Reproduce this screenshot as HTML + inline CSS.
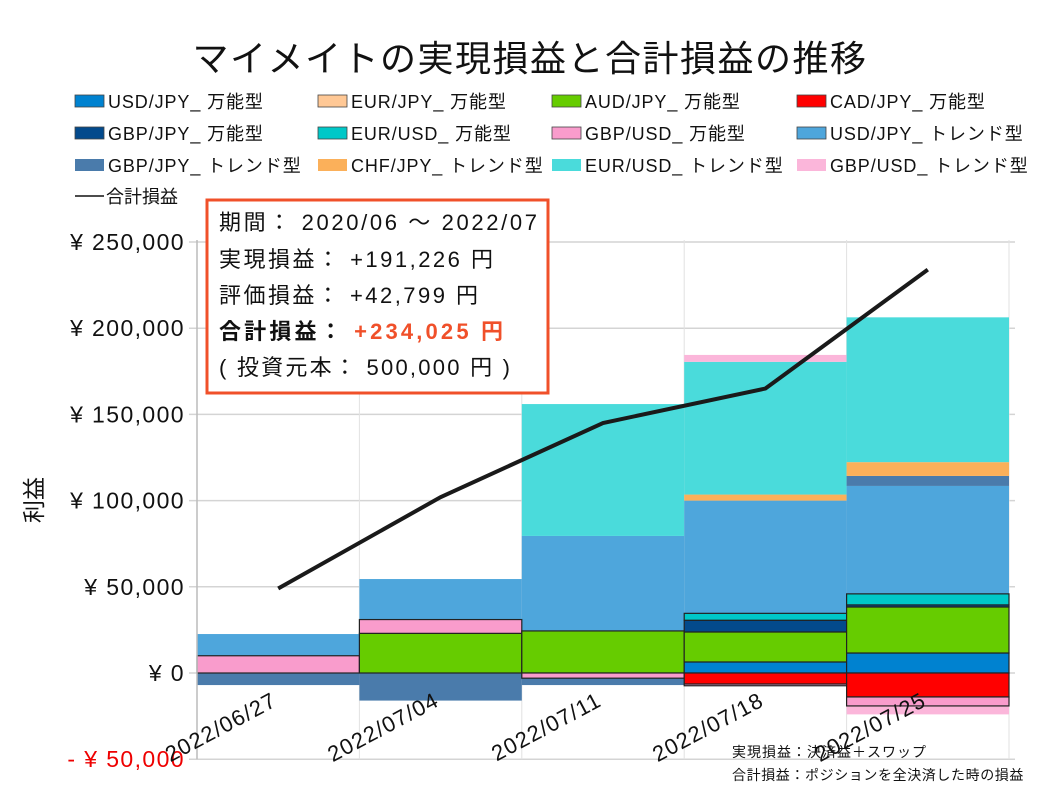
<!DOCTYPE html>
<html><head><meta charset="utf-8">
<style>
body{margin:0;background:#fff;width:1058px;height:794px;overflow:hidden;font-family:"Liberation Sans","Noto Sans CJK JP",sans-serif;}
svg{display:block}
</style></head>
<body>
<svg id="chart" width="1058" height="794" viewBox="0 0 1058 794" xmlns="http://www.w3.org/2000/svg" font-family="'Liberation Sans','Noto Sans CJK JP',sans-serif">
<text x="530" y="71" font-size="36" text-anchor="middle" fill="#111" letter-spacing="1.5">マイメイトの実現損益と合計損益の推移</text>
<g id="legend"></g>
<g id="grid"></g>
<g id="trend"></g>
<g id="bannou"></g>
<g id="axes"></g>
<text transform="translate(42,500) rotate(-90)" font-size="23" text-anchor="middle" fill="#111">利益</text>
<g>
<rect x="207" y="200" width="341" height="193" fill="#fff" stroke="#f0502a" stroke-width="3"/>
<text x="219" y="230" font-size="22" fill="#111" textLength="318" lengthAdjust="spacing">期間： 2020/06 ～ 2022/07</text>
<text x="219" y="267" font-size="22" fill="#111" textLength="274" lengthAdjust="spacing">実現損益： +191,226 円</text>
<text x="219" y="303" font-size="22" fill="#111" textLength="259" lengthAdjust="spacing">評価損益： +42,799 円</text>
<text x="219" y="339" font-size="22" fill="#111" font-weight="bold" textLength="284" lengthAdjust="spacing">合計損益： <tspan fill="#f0502a">+234,025 円</tspan></text>
<text x="219" y="375" font-size="22" fill="#111" textLength="291" lengthAdjust="spacing">( 投資元本： 500,000 円 )</text>
</g>
<text x="732" y="757" font-size="14" fill="#111" letter-spacing="1">実現損益：決済益＋スワップ</text>
<text x="732" y="780" font-size="14" fill="#111" letter-spacing="0.6">合計損益：ポジションを全決済した時の損益</text>
</svg>
<script>
const categories=["2022/06/27","2022/07/04","2022/07/11","2022/07/18","2022/07/25"];
const usdjpyB=[0,0,0,6400,11600];
const eurjpyB=[0,0,0,0,0];
const audjpyB=[0,23000,24400,17400,26700];
const cadjpyB=[0,0,0,-6400,-13900];
const gbpjpyB=[0,0,0,6800,1200];
const eurusdB=[0,0,0,4000,6400];
const gbpusdB=[10000,8000,-3000,-1000,-5200];
const usdjpyT=[22600,54500,79500,100000,108500];
const gbpjpyT=[-7000,-16000,-7000,-7500,5800];
const chfjpyT=[0,0,0,3500,8000];
const eurusdT=[0,0,76500,77000,84000];
const gbpusdT=[0,0,0,4000,-24000];
const totalPL=[49000,102000,145000,165000,234000];
const yTicks=[250000,200000,150000,100000,50000,0,-50000];
const yTickLabels=["¥ 250,000","¥ 200,000","¥ 150,000","¥ 100,000","¥ 50,000","¥ 0","- ¥ 50,000"];

const NS="http://www.w3.org/2000/svg";
const X0=197,X1=1009,Y0=673,PX=431/250000;
const bw=(X1-X0)/categories.length;
const y=v=>Y0-v*PX;
const xl=i=>X0+i*bw;
const xc=i=>X0+(i+0.5)*bw;
function mk(tag,at,parent){const e=document.createElementNS(NS,tag);for(const k in at)e.setAttribute(k,at[k]);parent.appendChild(e);return e;}

const grid=document.getElementById('grid');
yTicks.forEach((t,i)=>{
  const l=mk('line',{x1:X0-8,x2:X1+6,y1:y(t),y2:y(t),stroke:'#d4d4d4','stroke-width':1.5},grid);
  
  
  const tx=mk('text',{x:185,y:y(t)+8,'font-size':23,'text-anchor':'end',fill:t<0?'#e00':'#111','letter-spacing':1.4},grid);
  tx.textContent=yTickLabels[i];
  
  
});
for(let i=0;i<=categories.length;i++){
  const l=mk('line',{x1:xl(i),x2:xl(i),y1:y(250000)-2,y2:y(-50000),stroke:'#e2e2e2','stroke-width':1},grid);
  
  
}

function stack(groupId,series,bordered){
  const g=document.getElementById(groupId);
  categories.forEach((c,i)=>{
    let pos=0,neg=0;
    series.forEach(s=>{
      const v=s.data[i]; if(!v) return;
      let a,b;
      if(v>0){a=pos;b=pos+v;pos=b;}else{a=neg;b=neg+v;neg=b;}
      const r=mk('rect',{x:xl(i),y:y(Math.max(a,b)),width:bw,height:Math.abs(y(a)-y(b)),fill:s.color},g);
      if(bordered){r.setAttribute('stroke','#222');r.setAttribute('stroke-width','1.2');}
      
      
    });
  });
}
stack('trend',[
 {key:'usdjpy-trend',data:usdjpyT,color:'#4ea6dc'},
 {key:'gbpjpy-trend',data:gbpjpyT,color:'#4a7bab'},
 {key:'chfjpy-trend',data:chfjpyT,color:'#fbb05a'},
 {key:'eurusd-trend',data:eurusdT,color:'#4adbdb'},
 {key:'gbpusd-trend',data:gbpusdT,color:'#fbb6da'}],false);
stack('bannou',[
 {key:'usdjpy',data:usdjpyB,color:'#0082d0'},
 {key:'eurjpy',data:eurjpyB,color:'#ffc895'},
 {key:'audjpy',data:audjpyB,color:'#66cc00'},
 {key:'cadjpy',data:cadjpyB,color:'#ff0000'},
 {key:'gbpjpy',data:gbpjpyB,color:'#034a8c'},
 {key:'eurusd',data:eurusdB,color:'#00c8c8'},
 {key:'gbpusd',data:gbpusdB,color:'#f99ccc'}],true);

const axes=document.getElementById('axes');
const ax=mk('line',{x1:X0,x2:X0,y1:y(250000)-2,y2:y(-50000),stroke:'#bbb','stroke-width':1.5},axes);


const line=mk('polyline',{points:totalPL.map((v,i)=>xc(i)+','+y(v)).join(' '),fill:'none',stroke:'#1a1a1a','stroke-width':4},axes);


categories.forEach((c,i)=>{
  const t=mk('text',{transform:`translate(${xc(i)},${y(0)+32}) rotate(-28)`,'font-size':22,'text-anchor':'end',fill:'#111','letter-spacing':1.2},axes);
  t.textContent=c;
  
  
});

const legendItems=[
 ['USD/JPY_ 万能型','#0082d0'],['EUR/JPY_ 万能型','#ffc895'],['AUD/JPY_ 万能型','#66cc00'],['CAD/JPY_ 万能型','#ff0000'],
 ['GBP/JPY_ 万能型','#034a8c'],['EUR/USD_ 万能型','#00c8c8'],['GBP/USD_ 万能型','#f99ccc'],['USD/JPY_ トレンド型','#4ea6dc'],
 ['GBP/JPY_ トレンド型','#4a7bab'],['CHF/JPY_ トレンド型','#fbb05a'],['EUR/USD_ トレンド型','#4adbdb'],['GBP/USD_ トレンド型','#fbb6da']];
const lg=document.getElementById('legend');
const colX=[75,318,552,797];
legendItems.forEach((it,i)=>{
  const cx=colX[i%4],cy=101+Math.floor(i/4)*32;
  const r=mk('rect',{x:cx,y:cy-6,width:29,height:12,fill:it[1],stroke:i<8?'#444':'none','stroke-width':0.8},lg);
  
  
  const t=mk('text',{x:cx+33,y:cy+7,'font-size':18,fill:'#111','letter-spacing':0.9},lg);
  t.textContent=it[0];
  
  
});
const ll=mk('line',{x1:75,x2:104,y1:196,y2:196,stroke:'#111','stroke-width':1.5},lg);


const lt=mk('text',{x:106,y:203,'font-size':18,fill:'#111'},lg);
lt.textContent='合計損益';


</script>
</body></html>
